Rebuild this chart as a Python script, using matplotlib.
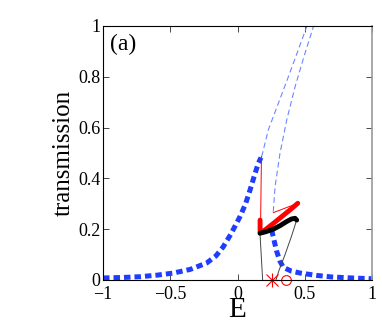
import matplotlib
matplotlib.use("Agg")
import matplotlib.pyplot as plt

plt.rcParams['font.family'] = ['Liberation Serif', 'DejaVu Serif']

# Blue thick dotted: left (lower) stable branch
E_left = [-1.0, -0.85, -0.725, -0.6, -0.48, -0.35, -0.229, -0.16, -0.107, -0.05, 0.019, 0.06, 0.093, 0.125, 0.155, 0.175]
T_left = [0.008, 0.010, 0.013, 0.019, 0.027, 0.042, 0.067, 0.095, 0.13, 0.18, 0.25, 0.30, 0.354, 0.41, 0.46, 0.482]
# Blue thick dotted: right branch
E_right = [0.254, 0.27, 0.29, 0.315, 0.34, 0.4, 0.47, 0.59, 0.7, 0.85, 1.0]
T_right = [0.197, 0.16, 0.115, 0.075, 0.05, 0.035, 0.027, 0.018, 0.012, 0.008, 0.005]
# Blue thin dashed: unstable continuations
E_dash1 = [0.18, 0.229, 0.304, 0.378, 0.452, 0.514, 0.522]
T_dash1 = [0.486, 0.591, 0.696, 0.80, 0.906, 0.997, 1.0]
E_dash2 = [0.266, 0.279, 0.316, 0.366, 0.428, 0.502, 0.566]
T_dash2 = [0.269, 0.367, 0.499, 0.63, 0.761, 0.893, 1.0]
# Red thin / thick
E_red_thin = [0.178, 0.172]
T_red_thin = [0.486, 0.236]
E_red_thick = [0.168, 0.168, 0.2, 0.26, 0.33, 0.4, 0.448]
T_red_thick = [0.236, 0.19, 0.195, 0.22, 0.25, 0.28, 0.302]
E_red_tri = [0.448, 0.266]
T_red_tri = [0.302, 0.265]
# Black thick and thin
E_black = [0.167, 0.21, 0.266, 0.32, 0.365, 0.40, 0.428, 0.44]
T_black = [0.184, 0.19, 0.20, 0.215, 0.23, 0.24, 0.243, 0.236]
E_black_thin1 = [0.167, 0.187]
T_black_thin1 = [0.184, 0.0]
E_black_thin2 = [0.44, 0.40, 0.35, 0.31, 0.286]
T_black_thin2 = [0.236, 0.17, 0.095, 0.04, 0.0]
# markers
E_star, T_star = [0.254], [0.0]
E_circ, T_circ = [0.358], [0.0]

fig = plt.figure(figsize=(3.82, 3.27), dpi=100)
ax = fig.add_axes([103/382, 1-280/327, 269/382, 254/327])

blue = '#1f3dff'
ax.plot(E_dash1, T_dash1, color='#6f86ff', lw=0.8, ls=(0, (5, 3)))
ax.plot(E_dash2, T_dash2, color='#6f86ff', lw=0.8, ls=(0, (5, 3)))
ax.plot(E_left, T_left, color=blue, lw=3.6, ls=(0, (1.3, 0.8)), dash_capstyle='butt')
ax.plot(E_right, T_right, color=blue, lw=3.6, ls=(0, (1.3, 0.8)), dash_capstyle='butt')
ax.plot(E_black_thin1, T_black_thin1, color='#444444', lw=0.7)
ax.plot(E_black_thin2, T_black_thin2, color='#444444', lw=0.7)
ax.plot(E_red_thin, T_red_thin, color='red', lw=0.7)
ax.plot(E_red_tri, T_red_tri, color='red', lw=0.7)
ax.plot(E_red_thick, T_red_thick, color='red', lw=3.5, solid_capstyle='round')
ax.plot(E_black, T_black, color='black', lw=3.5, solid_capstyle='round')
ax.plot(E_star, T_star, marker='+', color='red', ms=10, mew=0.8, ls='none', clip_on=False)
ax.plot(E_star, T_star, marker='x', color='red', ms=8, mew=0.8, ls='none', clip_on=False)
ax.plot(E_circ, T_circ, marker='o', color='red', ms=7, mfc='none', mew=0.8, ls='none', clip_on=False)

ax.set_xlim(-1, 1)
ax.set_ylim(0, 1)
ax.set_xticks([-1, -0.5, 0, 0.5, 1])
ax.set_xticklabels(['\u22121', '\u22120.5', '0', '0.5', '1'])
ax.set_yticks([0, 0.2, 0.4, 0.6, 0.8, 1])
ax.set_yticklabels(['0', '0.2', '0.4', '0.6', '0.8', '1'])
ax.tick_params(direction='in', top=True, right=True, labelsize=13, length=4, width=0.5)
ax.tick_params(axis='x', pad=4)
ax.tick_params(axis='y', pad=2)
for s in ax.spines.values():
    s.set_linewidth(0.8)
ax.spines['right'].set_color('#999999')
ax.spines['right'].set_linewidth(1.2)

ax.set_xlabel('E', fontsize=21, labelpad=-4)
ax.set_ylabel('transmission', fontsize=18, labelpad=2)
ax.text(0.025, 0.97, '(a)', transform=ax.transAxes, fontsize=17, va='top', ha='left')

fig.savefig('out.png', dpi=100)
